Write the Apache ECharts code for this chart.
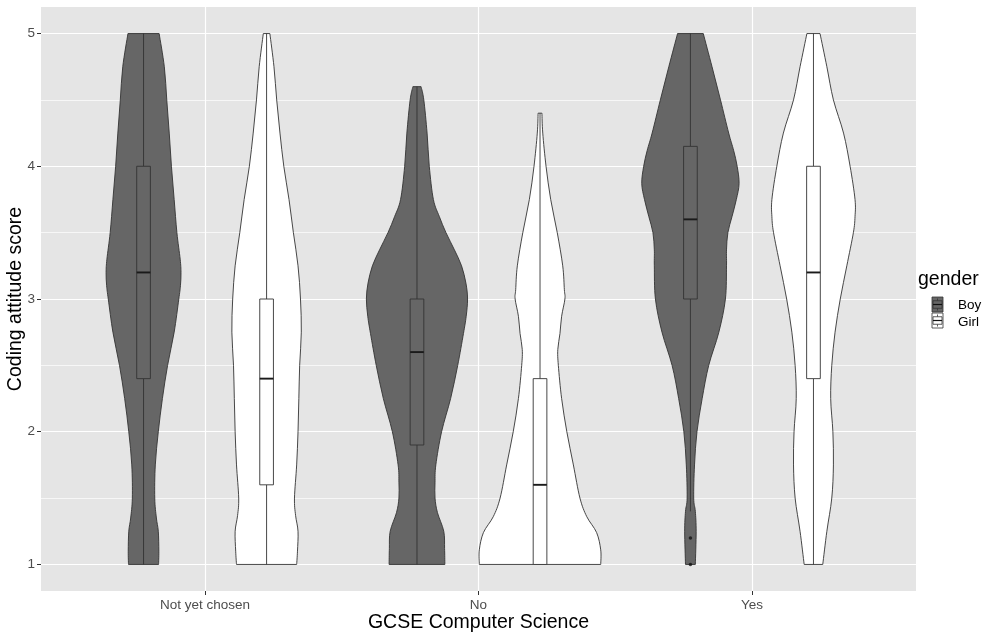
<!DOCTYPE html>
<html><head><meta charset="utf-8">
<script src="https://cdn.jsdelivr.net/npm/echarts@6/dist/echarts.min.js"></script>
<style>html,body{margin:0;padding:0;background:#fff}#c{width:999px;height:634px}</style>
</head><body><div id="c"></div>
<script>
const categories = ['Not yet chosen', 'No', 'Yes'];
const genders = ['Boy', 'Girl'];
const yTicks = [1, 2, 3, 4, 5];
const yMinorTicks = [1.5, 2.5, 3.5, 4.5];

// violin outlines: [score, half-width in category units]
const violinBoyNotYet = [[5.0,0.057],[4.75,0.076],[4.5,0.085],[4.25,0.094],[4.0,0.102],[3.75,0.112],[3.5,0.122],[3.3,0.134],[3.2,0.137],[3.1,0.135],[3.0,0.129],[2.75,0.112],[2.5,0.088],[2.25,0.069],[2.0,0.054],[1.75,0.043],[1.5,0.041],[1.35,0.047],[1.25,0.054],[1.1,0.056],[1.0,0.055]];
const violinGirlNotYet = [[5.0,0.012],[4.75,0.027],[4.5,0.037],[4.25,0.049],[4.0,0.063],[3.75,0.082],[3.5,0.098],[3.25,0.115],[3.0,0.124],[2.75,0.127],[2.5,0.121],[2.25,0.118],[2.0,0.115],[1.75,0.110],[1.5,0.102],[1.37,0.106],[1.25,0.115],[1.1,0.113],[1.0,0.110]];
const violinBoyNo = [[4.6,0.015],[4.5,0.025],[4.25,0.037],[4.0,0.045],[3.75,0.060],[3.62,0.082],[3.5,0.106],[3.37,0.137],[3.25,0.163],[3.12,0.179],[3.0,0.185],[2.87,0.180],[2.74,0.170],[2.5,0.149],[2.25,0.123],[2.0,0.090],[1.75,0.069],[1.62,0.066],[1.5,0.066],[1.39,0.075],[1.25,0.098],[1.12,0.101],[1.0,0.102]];
const violinGirlNo = [[4.4,0.007],[4.25,0.010],[4.0,0.022],[3.75,0.039],[3.5,0.063],[3.25,0.083],[3.07,0.089],[3.0,0.091],[2.87,0.079],[2.74,0.073],[2.62,0.065],[2.5,0.067],[2.25,0.079],[2.0,0.098],[1.75,0.122],[1.5,0.146],[1.36,0.171],[1.24,0.207],[1.11,0.222],[1.0,0.222]];
const violinBoyYes = [[5.0,0.047],[4.75,0.079],[4.5,0.110],[4.25,0.140],[4.12,0.158],[4.0,0.171],[3.87,0.178],[3.75,0.168],[3.62,0.152],[3.5,0.137],[3.37,0.132],[3.25,0.132],[3.0,0.128],[2.75,0.104],[2.5,0.067],[2.25,0.043],[2.0,0.024],[1.75,0.015],[1.5,0.012],[1.4,0.018],[1.25,0.021],[1.0,0.018]];
const violinGirlYes = [[5.0,0.024],[4.75,0.049],[4.5,0.073],[4.25,0.110],[4.0,0.134],[3.75,0.152],[3.62,0.152],[3.5,0.146],[3.25,0.122],[3.0,0.098],[2.75,0.079],[2.5,0.067],[2.25,0.063],[2.0,0.071],[1.75,0.073],[1.5,0.067],[1.25,0.049],[1.0,0.034]];

// box stats per category: [lowerWhisker, q1, median, q3, upperWhisker]
const boxBoy = [[1, 2.4, 3.2, 4.0, 5], [1, 1.9, 2.6, 3.0, 4.6], [1.4, 3.0, 3.6, 4.15, 5]];
const boxGirl = [[1, 1.6, 2.4, 3.0, 5], [1, 1.0, 1.6, 2.4, 4.4], [1, 2.4, 3.2, 4.0, 5]];
// outliers: [categoryIndex, score]
const outliersBoy = [[2, 1.2], [2, 1.0]];

const violins = [
  [violinBoyNotYet, violinBoyNo, violinBoyYes],
  [violinGirlNotYet, violinGirlNo, violinGirlYes]
];
const boxes = [boxBoy, boxGirl];
const fills = ['#666666', '#FFFFFF'];
const dodge = [-0.225, 0.225];
const boxHalf = 0.025;
const FONT = '"Liberation Sans", Arial, sans-serif';

// smooth open curve through pixel points (Catmull-Rom -> cubic bezier path commands)
function curveCmds(p) {
  let s = '';
  for (let i = 0; i < p.length - 1; i++) {
    const p0 = p[Math.max(i - 1, 0)], p1 = p[i], p2 = p[i + 1], p3 = p[Math.min(i + 2, p.length - 1)];
    const c1x = p1[0] + (p2[0] - p0[0]) / 6, c1y = p1[1] + (p2[1] - p0[1]) / 6;
    const c2x = p2[0] - (p3[0] - p1[0]) / 6, c2y = p2[1] - (p3[1] - p1[1]) / 6;
    s += ' C' + c1x.toFixed(2) + ' ' + c1y.toFixed(2) + ' ' + c2x.toFixed(2) + ' ' + c2y.toFixed(2) + ' ' + p2[0].toFixed(2) + ' ' + p2[1].toFixed(2);
  }
  return s;
}

function makeRender(g) {
  return function (params, api) {
    const ci = api.value(0);
    const cx = ci + dodge[g];
    const prof = violins[g][ci];
    const right = prof.map(p => api.coord([cx + p[1], p[0]]));
    const left = prof.map(p => api.coord([cx - p[1], p[0]])).reverse();
    const d = 'M' + right[0][0].toFixed(2) + ' ' + right[0][1].toFixed(2) + curveCmds(right) +
      ' L' + left[0][0].toFixed(2) + ' ' + left[0][1].toFixed(2) + curveCmds(left) + ' Z';
    const b = boxes[g][ci];
    const lw = api.coord([cx, b[0]]), q1 = api.coord([cx, b[1]]), md = api.coord([cx, b[2]]),
          q3 = api.coord([cx, b[3]]), uw = api.coord([cx, b[4]]);
    const xl = api.coord([cx - boxHalf, b[2]])[0], xr = api.coord([cx + boxHalf, b[2]])[0];
    const stroke = '#333333';
    return {
      type: 'group',
      children: [
        { type: 'path', shape: { pathData: d }, style: { fill: fills[g], stroke: stroke, lineWidth: 0.9 } },
        { type: 'line', shape: { x1: lw[0], y1: lw[1], x2: q1[0], y2: q1[1] }, style: { stroke: stroke, lineWidth: 0.9 } },
        { type: 'line', shape: { x1: q3[0], y1: q3[1], x2: uw[0], y2: uw[1] }, style: { stroke: stroke, lineWidth: 0.9 } },
        { type: 'rect', shape: { x: xl, y: q3[1], width: xr - xl, height: q1[1] - q3[1] }, style: { fill: fills[g], stroke: stroke, lineWidth: 0.9 } },
        { type: 'line', shape: { x1: xl, y1: md[1], x2: xr, y2: md[1] }, style: { stroke: '#1a1a1a', lineWidth: 1.9 } }
      ]
    };
  };
}

function legendKey(y, fill) {
  const w = 11, h = 15, x = 932;
  return {
    type: 'group', x: x, y: y,
    children: [
      { type: 'rect', shape: { x: 0, y: 0, width: w, height: h }, style: { fill: fill, stroke: '#333', lineWidth: 0.8 } },
      { type: 'line', shape: { x1: w / 2, y1: 1.5, x2: w / 2, y2: h * 0.25 }, style: { stroke: '#333', lineWidth: 0.8 } },
      { type: 'line', shape: { x1: w / 2, y1: h * 0.75, x2: w / 2, y2: h - 1.5 }, style: { stroke: '#333', lineWidth: 0.8 } },
      { type: 'rect', shape: { x: 1, y: h * 0.25, width: w - 2, height: h * 0.5 }, style: { fill: fill, stroke: '#333', lineWidth: 0.8 } },
      { type: 'line', shape: { x1: 1, y1: h * 0.5, x2: w - 1, y2: h * 0.5 }, style: { stroke: '#111', lineWidth: 1.2 } }
    ]
  };
}

const chart = echarts.init(document.getElementById('c'), null, { renderer: 'canvas' });
chart.setOption({
  animation: false,
  backgroundColor: '#FFFFFF',
  grid: { left: 41, right: 83, top: 7, bottom: 43, show: true, backgroundColor: '#E5E5E5', borderWidth: 0, outerBoundsMode: 'none', containLabel: false },
  xAxis: {
    type: 'value', min: -0.6, max: 2.6,
    axisLine: { show: false, onZero: false },
    axisTick: { show: true, length: 4, customValues: [0, 1, 2], lineStyle: { color: '#333', width: 1 } },
    axisLabel: { customValues: [0, 1, 2], formatter: v => categories[Math.round(v)], color: '#4D4D4D', fontSize: 13.5, margin: 7, fontFamily: FONT },
    splitLine: { show: true, lineStyle: { color: '#FFFFFF', width: 1.2 } },
    name: 'GCSE Computer Science', nameLocation: 'middle', nameGap: 22, nameMoveOverlap: false,
    nameTextStyle: { fontSize: 19.5, color: '#000', fontFamily: FONT }
  },
  yAxis: [{
    type: 'value', min: 0.8, max: 5.2,
    axisLine: { show: false, onZero: false },
    axisTick: { show: true, length: 4, customValues: yTicks, lineStyle: { color: '#333', width: 1 } },
    axisLabel: { customValues: yTicks, color: '#4D4D4D', fontSize: 13.5, margin: 6, fontFamily: FONT },
    splitLine: { show: true, lineStyle: { color: '#FFFFFF', width: 1.2 } },
    name: 'Coding attitude score', nameLocation: 'middle', nameGap: 15, nameRotate: 90, nameMoveOverlap: false,
    nameTextStyle: { fontSize: 19.5, color: '#000', fontFamily: FONT }
  }, {
    type: 'value', min: 0.8, max: 5.2, position: 'left',
    axisLine: { show: false, onZero: false },
    axisTick: { show: false, customValues: yMinorTicks },
    axisLabel: { show: false, customValues: yMinorTicks },
    splitLine: { show: true, lineStyle: { color: '#FFFFFF', width: 0.7 } }
  }],
  series: [
    { type: 'custom', name: genders[0], renderItem: makeRender(0), data: categories.map((c, i) => [i]), z: 2 },
    { type: 'custom', name: genders[1], renderItem: makeRender(1), data: categories.map((c, i) => [i]), z: 2 },
    { type: 'scatter', name: genders[0] + ' outliers', data: outliersBoy.map(o => [o[0] + dodge[0], o[1]]), symbolSize: 3.5, itemStyle: { color: '#111' }, z: 3 }
  ],
  graphic: [
    { type: 'text', left: 918, top: 270, style: { text: 'gender', fontSize: 19.5, fill: '#000', fontFamily: FONT } },
    legendKey(297, fills[0]),
    legendKey(313, fills[1]),
    { type: 'text', left: 958, top: 298, style: { text: genders[0], fontSize: 13.5, fill: '#000', fontFamily: FONT } },
    { type: 'text', left: 958, top: 315, style: { text: genders[1], fontSize: 13.5, fill: '#000', fontFamily: FONT } }
  ]
});
</script></body></html>
